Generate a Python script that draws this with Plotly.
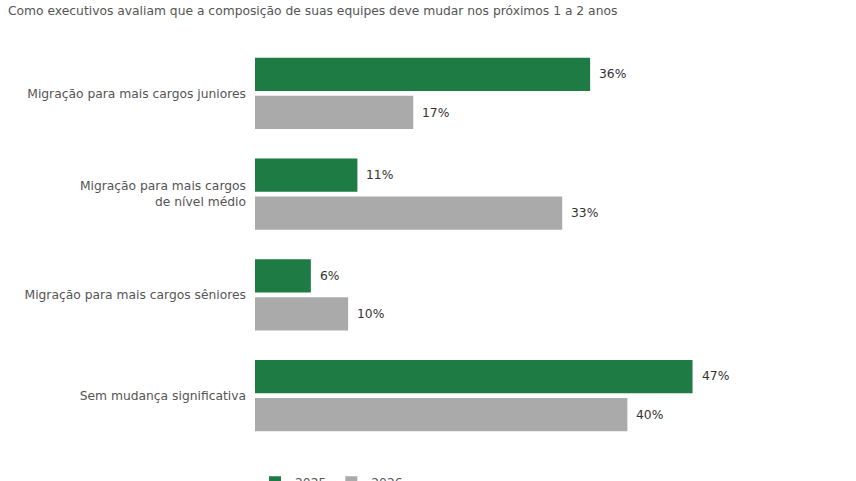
import plotly.graph_objects as go

categories = ["Migração para mais cargos juniores",
              "Migração para mais cargos<br>de nível médio",
              "Migração para mais cargos sêniores",
              "Sem mudança significativa"]
values_2025 = [36, 11, 6, 47]
values_2026 = [17, 33, 10, 40]
series_names = ["2025", "2026"]
title_text = "Como executivos avaliam que a composição de suas equipes deve mudar nos próximos 1 a 2 anos"

GREEN = "#1e7b43"
GRAY = "#aaaaaa"
FONT = "DejaVu Sans"
FS = 12.3

fig = go.Figure()
fig.add_trace(go.Bar(y=categories, x=values_2025, name=series_names[0], orientation="h",
                     marker=dict(color=GREEN, line=dict(width=0)), hoverinfo="skip"))
fig.add_trace(go.Bar(y=categories, x=values_2026, name=series_names[1], orientation="h",
                     marker=dict(color=GRAY, line=dict(width=0)), hoverinfo="skip"))

annotations = []
for vals, off in ((values_2025, -0.19), (values_2026, 0.19)):
    for i, v in enumerate(vals):
        annotations.append(dict(x=v, y=i + off, xref="x", yref="y", text=f"{v}%",
                                showarrow=False, xanchor="left", yanchor="middle", xshift=7,
                                font=dict(family=FONT, size=FS, color="#333333")))

H = 500
fig.update_layout(
    width=856, height=H,
    margin=dict(l=255, r=89, t=43, b=H - 446, autoexpand=False),
    paper_bgcolor="white", plot_bgcolor="white",
    barmode="group", bargap=0.245, bargroupgap=0.131,
    font=dict(family=FONT, size=FS, color="#555555"),
    title=dict(text=title_text, x=8/856, xref="container", xanchor="left",
               y=1 - 11/H, yref="container", yanchor="middle",
               font=dict(family=FONT, size=FS, color="#555555")),
    xaxis=dict(range=[0, 55], visible=False, showgrid=False, zeroline=False),
    yaxis=dict(autorange="reversed", showgrid=False, zeroline=False, showline=False,
               ticks="", ticklabelstandoff=8,
               tickfont=dict(family=FONT, size=FS, color="#555555")),
    legend=dict(orientation="h", x=0, xanchor="left", y=-0.054, yanchor="top",
                font=dict(family=FONT, size=FS, color="#555555"), traceorder="normal"),
    annotations=annotations,
)

fig.write_html("out.html", config={"displayModeBar": False},
               post_script="document.body.style.margin='0';document.body.style.overflow='hidden';"
                           "document.documentElement.style.overflow='hidden';")
